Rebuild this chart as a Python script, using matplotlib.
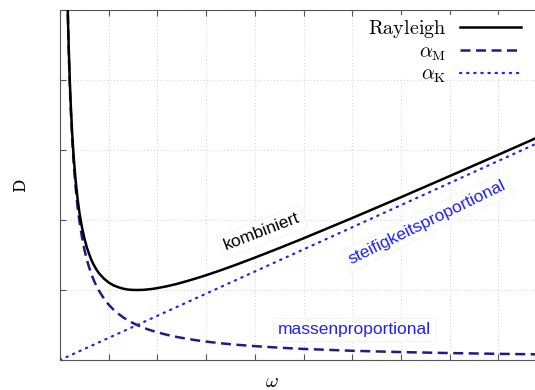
import numpy as np
import matplotlib
matplotlib.use('Agg')
import matplotlib.pyplot as plt
from matplotlib.patches import Rectangle

#%% Datos (omega y D en unidades de la reticula)
omega = [0.16, 0.17, 0.18, 0.2, 0.22, 0.25, 0.28, 0.32, 0.36, 0.4, 0.45, 0.5, 0.55, 0.6,
         0.65, 0.7, 0.75, 0.8, 0.9, 1.0, 1.1, 1.2, 1.3, 1.4, 1.5, 1.6, 1.7, 1.8, 1.9, 2.0,
         2.2, 2.4, 2.6, 2.8, 3.0, 3.3, 3.6, 4.0, 4.5, 5, 6, 7, 8, 9, 10]
d_masse = [4.94, 4.65, 4.39, 3.95, 3.59, 3.16, 2.82, 2.47, 2.19, 1.98, 1.76, 1.58, 1.436, 1.32,
           1.215, 1.13, 1.053, 0.99, 0.88, 0.79, 0.718, 0.66, 0.608, 0.564, 0.527, 0.494, 0.465,
           0.439, 0.416, 0.395, 0.359, 0.329, 0.304, 0.282, 0.263, 0.239, 0.219, 0.198, 0.176,
           0.158, 0.132, 0.113, 0.099, 0.088, 0.079]
d_rayleigh = [4.99, 4.70, 4.45, 4.01, 3.66, 3.24, 2.91, 2.57, 2.31, 2.10, 1.90, 1.74, 1.61, 1.51,
              1.42, 1.35, 1.29, 1.24, 1.164, 1.106, 1.066, 1.039, 1.019, 1.006, 1.001, 1.0, 1.002,
              1.008, 1.016, 1.027, 1.054, 1.087, 1.126, 1.167, 1.211, 1.282, 1.357, 1.462, 1.598,
              1.738, 2.028, 2.325, 2.627, 2.932, 3.239]
omega_k = [0, 10]
d_steif = [0, 3.16]

etiquetas = ['kombiniert', 'steifigkeitsproportional', 'massenproportional']

#%% Figura
plt.rcParams['mathtext.fontset'] = 'cm'
fig = plt.figure(figsize=(5.35, 3.9), dpi=100)
ax = fig.add_axes([60/535, 30/390, 487/535, 350/390])

ax.plot(omega, d_rayleigh, color='k', lw=1.8, label=r'$\mathrm{Rayleigh}$', zorder=4)
ax.plot(omega, d_masse, color='#1c1c8a', lw=1.8, ls=(0, (4, 2.2)), label=r'$\alpha_\mathrm{M}$', zorder=3)
ax.plot(omega_k, d_steif, color='#2020ff', lw=1.6, ls=(0, (0.6, 2.6)), dash_capstyle='round',
        label=r'$\alpha_\mathrm{K}$', zorder=3)

ax.set_xlim(0, 10)
ax.set_ylim(0, 5)
ax.set_xticks(np.arange(0, 11))
ax.set_yticks(np.arange(0, 6))
ax.set_xticklabels([])
ax.set_yticklabels([])
ax.tick_params(direction='in', top=True, right=True, length=4, color='#555555')
for s in ax.spines.values():
    s.set_color('#555555')
ax.grid(True, color='#d8d8d8', ls=(0, (1, 2)), lw=0.8)

ax.set_ylabel('D', family='DejaVu Serif', fontsize=12)
ax.yaxis.set_label_coords(-0.064, 0.5)
ax.set_xlabel(r'$\omega$', fontsize=14)
ax.xaxis.set_label_coords((272-60)/487, -0.035)

# textos sobre las curvas
caja = dict(facecolor='white', edgecolor='#f0f0f0', lw=0.5, pad=3)
ax.text(4.15, 1.83, etiquetas[0], rotation=21, ha='center', va='center', fontsize=12.5,
        family='Liberation Sans', color='k', bbox=caja, zorder=5)
ax.text(7.54, 1.97, etiquetas[1], rotation=26, ha='center', va='center', fontsize=12.5,
        family='Liberation Sans', color='#2020ff', bbox=caja, zorder=5)
ax.text(6.04, 0.44, etiquetas[2], rotation=0, ha='center', va='center', fontsize=12.5,
        family='Liberation Sans', color='#2020ff', bbox=caja, zorder=5)

# fondo blanco de la leyenda: tapa la reticula pero deja ver las marcas del eje superior
fondo = Rectangle((355/535, 313/390), 180/535, 62/390, transform=fig.transFigure,
                  facecolor='white', edgecolor='none', zorder=1.8)
ax.add_artist(fondo)

leg = ax.legend(loc='upper right', bbox_to_anchor=(535/535, 386/390), bbox_transform=fig.transFigure,
                markerfirst=False, frameon=False, fontsize=14.5, handlelength=3.0,
                labelspacing=0.1, borderpad=0.2, handletextpad=0.7)
for t in leg.get_texts():
    t.set_ha('right')

plt.savefig('out.png', dpi=100)
